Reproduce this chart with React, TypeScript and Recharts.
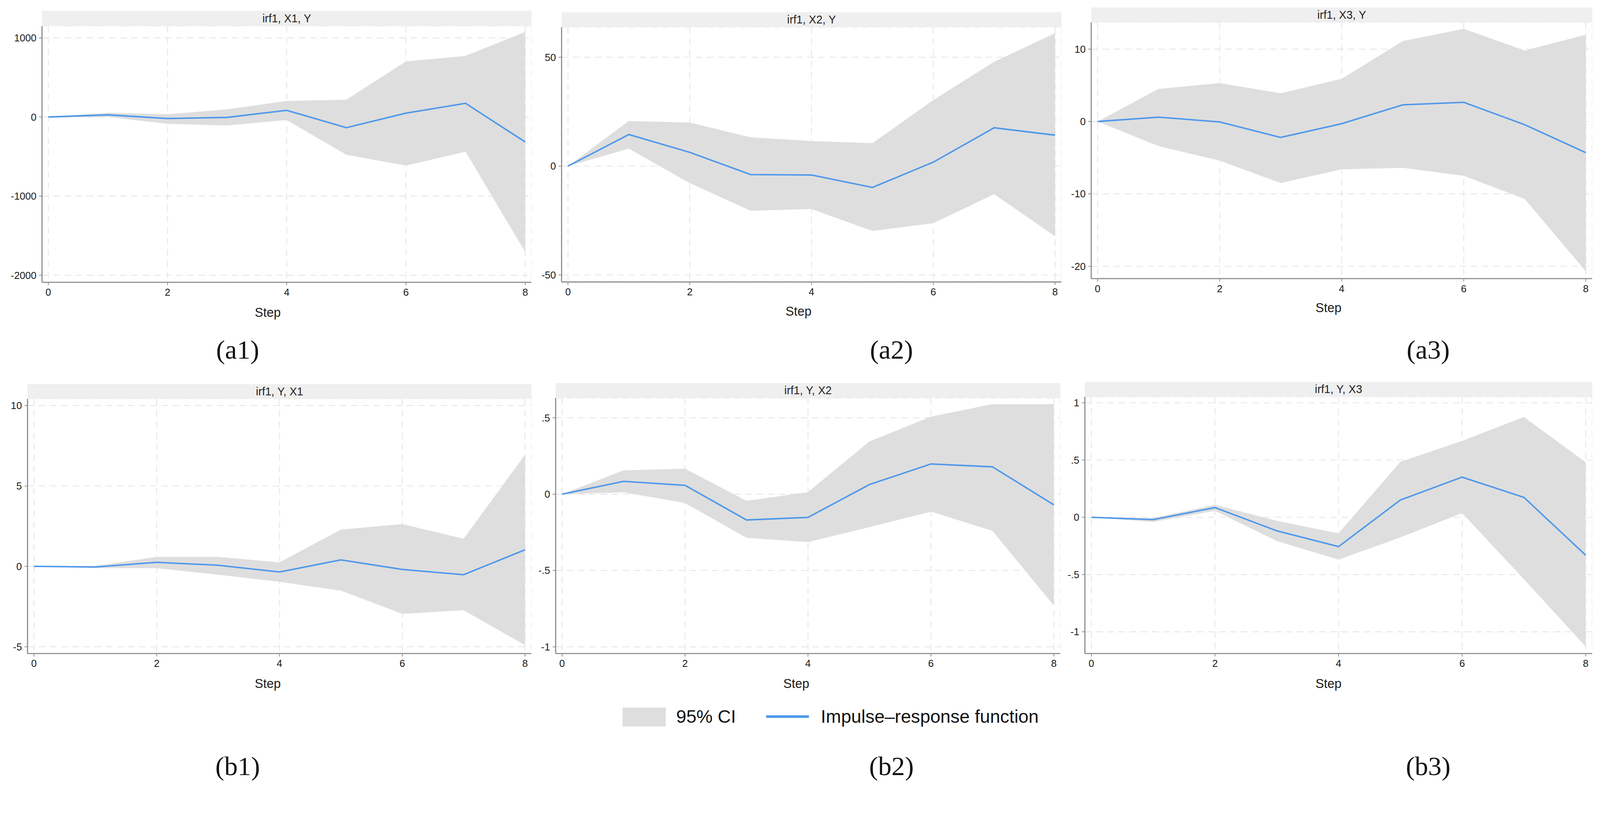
import React from "react";
import {
  ComposedChart,
  Area,
  Line,
  XAxis,
  YAxis,
  CartesianGrid,
} from "recharts";

// Steps 0..8 of the impulse-response horizon
const STEPS = [0, 1, 2, 3, 4, 5, 6, 7, 8];
const STEP_TICKS = [0, 2, 4, 6, 8];

// (a1) irf1, X1, Y
const A1_IRF = [0, 27, -19, -5, 84, -135, 49, 173, -316];
const A1_LO = [0, 0, -86, -108, -38, -478, -614, -438, -1708];
const A1_HI = [0, 54, 35, 97, 203, 219, 703, 773, 1076];
const A1_TICKS = [-2000, -1000, 0, 1000];

// (a2) irf1, X2, Y
const A2_IRF = [0, 14.5, 6.3, -3.9, -4.1, -9.8, 1.8, 17.6, 14.2];
const A2_LO = [0, 8.0, -7.8, -20.5, -19.7, -29.8, -26.2, -12.9, -32.2];
const A2_HI = [0, 20.7, 20.0, 13.2, 11.5, 10.5, 30.3, 47.9, 61.0];
const A2_TICKS = [-50, 0, 50];

// (a3) irf1, X3, Y
const A3_IRF = [0, 0.6, -0.06, -2.2, -0.3, 2.3, 2.65, -0.44, -4.3];
const A3_LO = [0, -3.4, -5.4, -8.5, -6.6, -6.4, -7.5, -10.7, -20.7];
const A3_HI = [0, 4.5, 5.3, 3.9, 5.9, 11.1, 12.8, 9.8, 12.0];
const A3_TICKS = [-20, -10, 0, 10];

// (b1) irf1, Y, X1
const B1_IRF = [0, -0.04, 0.25, 0.07, -0.35, 0.4, -0.19, -0.52, 1.03];
const B1_LO = [0, -0.11, -0.11, -0.52, -0.96, -1.51, -2.95, -2.73, -4.9];
const B1_HI = [0, 0.03, 0.59, 0.59, 0.25, 2.28, 2.63, 1.72, 6.94];
const B1_TICKS = [-5, 0, 5, 10];

// (b2) irf1, Y, X2
const B2_IRF = [0, 0.084, 0.058, -0.169, -0.152, 0.063, 0.198, 0.179, -0.07];
const B2_LO = [0, 0.012, -0.058, -0.286, -0.314, -0.216, -0.114, -0.24, -0.73];
const B2_HI = [0, 0.156, 0.167, -0.044, 0.014, 0.345, 0.508, 0.59, 0.59];
const B2_TICKS = [-1, -0.5, 0, 0.5];

// (b3) irf1, Y, X3
const B3_IRF = [0, -0.02, 0.085, -0.118, -0.256, 0.151, 0.351, 0.174, -0.331];
const B3_LO = [0, -0.04, 0.057, -0.207, -0.37, -0.175, 0.037, -0.54, -1.13];
const B3_HI = [0, -0.005, 0.109, -0.03, -0.14, 0.484, 0.668, 0.876, 0.481];
const B3_TICKS = [-1, -0.5, 0, 0.5, 1];

const CI_FILL = "#dedede";
const IRF_BLUE = "#4f98ea";
const AXIS_GRAY = "#8c8c8c";
const SANS = '"Liberation Sans", Arial, sans-serif';
const SERIF = '"Liberation Serif", "Times New Roman", serif';

const PAGE_W = 4302;
const PAGE_H = 2122;

// stata-style labels: .5, -.5
const fmt = (v: number) => String(v).replace(/^(-?)0\./, "$1.");

type PanelSpec = {
  title: string;
  tag: string;
  irf: number[];
  lo: number[];
  hi: number[];
  ticks: number[];
  domain: [number, number];
  left: number;
  right: number;
  barTop: number;
  top: number;
  bottom: number;
  stepX: number;
  stepY: number;
  tagX: number;
  tagY: number;
};

const PANELS: PanelSpec[] = [
  { title: "irf1, X1, Y", tag: "(a1)", irf: A1_IRF, lo: A1_LO, hi: A1_HI, ticks: A1_TICKS, domain: [-2090, 1150],
    left: 113, right: 1429, barTop: 29, top: 70, bottom: 759, stepX: 720, stepY: 840, tagX: 639, tagY: 940 },
  { title: "irf1, X2, Y", tag: "(a2)", irf: A2_IRF, lo: A2_LO, hi: A2_HI, ticks: A2_TICKS, domain: [-53.2, 63.8],
    left: 1510, right: 2854, barTop: 33, top: 73, bottom: 758, stepX: 2147, stepY: 837, tagX: 2397, tagY: 940 },
  { title: "irf1, X3, Y", tag: "(a3)", irf: A3_IRF, lo: A3_LO, hi: A3_HI, ticks: A3_TICKS, domain: [-21.7, 13.7],
    left: 2934, right: 4281, barTop: 20, top: 60, bottom: 749, stepX: 3572, stepY: 827, tagX: 3840, tagY: 940 },
  { title: "irf1, Y, X1", tag: "(b1)", irf: B1_IRF, lo: B1_LO, hi: B1_HI, ticks: B1_TICKS, domain: [-5.42, 10.42],
    left: 74, right: 1429, barTop: 1033, top: 1072, bottom: 1757, stepX: 720, stepY: 1838, tagX: 639, tagY: 2060 },
  { title: "irf1, Y, X2", tag: "(b2)", irf: B2_IRF, lo: B2_LO, hi: B2_HI, ticks: B2_TICKS, domain: [-1.044, 0.63],
    left: 1494, right: 2851, barTop: 1030, top: 1070, bottom: 1757, stepX: 2141, stepY: 1838, tagX: 2397, tagY: 2060 },
  { title: "irf1, Y, X3", tag: "(b3)", irf: B3_IRF, lo: B3_LO, hi: B3_HI, ticks: B3_TICKS, domain: [-1.19, 1.052],
    left: 2917, right: 4281, barTop: 1027, top: 1067, bottom: 1757, stepX: 3572, stepY: 1838, tagX: 3840, tagY: 2060 },
];

const YW = 120;
const XH = 60;

function Panel({ p }: { p: PanelSpec }) {
  const data = STEPS.map((s, i) => ({ step: s, irf: p.irf[i], band: [p.lo[i], p.hi[i]] }));
  const w = p.right - p.left;
  const h = p.bottom - p.top;
  const tickStyle = { fill: "#1a1a1a", fontSize: 27, fontFamily: SANS };

  return (
    <>
      <div
        style={{
          position: "absolute",
          left: p.left,
          top: p.barTop,
          width: w,
          height: p.top - p.barTop,
          background: "#efefef",
          display: "flex",
          alignItems: "center",
          justifyContent: "center",
          fontFamily: SANS,
          fontSize: 30,
          color: "#222",
        }}
      >
        {p.title}
      </div>
      <div style={{ position: "absolute", left: p.left - YW, top: p.top }}>
        <ComposedChart width={w + YW} height={h + XH} data={data} margin={{ top: 0, right: 0, bottom: 0, left: 0 }}>
          <CartesianGrid stroke="#e3e3e3" strokeDasharray="18 12" strokeWidth={2} />
          <XAxis
            dataKey="step"
            type="number"
            domain={[-0.105, 8.105]}
            ticks={STEP_TICKS}
            allowDataOverflow
            height={XH}
            tick={tickStyle}
            tickSize={8}
            tickMargin={9}
            axisLine={{ stroke: AXIS_GRAY, strokeWidth: 3 }}
            tickLine={{ stroke: AXIS_GRAY, strokeWidth: 2 }}
          />
          <YAxis
            type="number"
            domain={p.domain}
            ticks={p.ticks}
            allowDataOverflow
            width={YW}
            tickFormatter={fmt}
            tick={tickStyle}
            tickSize={8}
            tickMargin={7}
            axisLine={{ stroke: AXIS_GRAY, strokeWidth: 3 }}
            tickLine={{ stroke: AXIS_GRAY, strokeWidth: 2 }}
          />
          <Area
            dataKey="band"
            type="linear"
            fill={CI_FILL}
            fillOpacity={1}
            stroke="none"
            isAnimationActive={false}
          />
          <Line
            dataKey="irf"
            type="linear"
            stroke={IRF_BLUE}
            strokeWidth={4}
            dot={false}
            isAnimationActive={false}
          />
        </ComposedChart>
      </div>
      <div
        style={{
          position: "absolute",
          left: p.stepX,
          top: p.stepY,
          transform: "translate(-50%, -50%)",
          fontFamily: SANS,
          fontSize: 34,
          lineHeight: 1,
          color: "#1a1a1a",
        }}
      >
        Step
      </div>
      <div
        style={{
          position: "absolute",
          left: p.tagX,
          top: p.tagY,
          transform: "translate(-50%, -50%)",
          fontFamily: SERIF,
          fontSize: 72,
          lineHeight: 1,
          color: "#111",
        }}
      >
        {p.tag}
      </div>
    </>
  );
}

function LegendRow() {
  const text = { position: "absolute" as const, top: 1927, transform: "translateY(-50%)", fontFamily: SANS, fontSize: 49, lineHeight: 1, color: "#111", whiteSpace: "nowrap" as const };
  return (
    <>
      <div style={{ position: "absolute", left: 1674, top: 1902, width: 116, height: 51, background: CI_FILL }} />
      <div style={{ ...text, left: 1818 }}>95% CI</div>
      <div style={{ position: "absolute", left: 2060, top: 1923, width: 115, height: 7, background: IRF_BLUE }} />
      <div style={{ ...text, left: 2207 }}>Impulse–response function</div>
    </>
  );
}

export default function App() {
  // the viewport may be a little smaller than the figure; fit it
  const vw = typeof window !== "undefined" ? window.innerWidth : PAGE_W;
  const vh = typeof window !== "undefined" ? window.innerHeight : PAGE_H;
  const scale = Math.min(1, vw / PAGE_W, vh / PAGE_H);
  if (typeof document !== "undefined") {
    document.documentElement.style.overflow = "hidden";
    document.body.style.overflow = "hidden";
  }

  return (
    <div
      style={{
        position: "absolute",
        left: 0,
        top: 0,
        width: PAGE_W,
        height: PAGE_H,
        background: "#fff",
        overflow: "hidden",
        fontFamily: SANS,
        transform: `scale(${scale})`,
        transformOrigin: "0 0",
      }}
    >
      {PANELS.map((p) => (
        <Panel key={p.tag} p={p} />
      ))}
      <LegendRow />
    </div>
  );
}
